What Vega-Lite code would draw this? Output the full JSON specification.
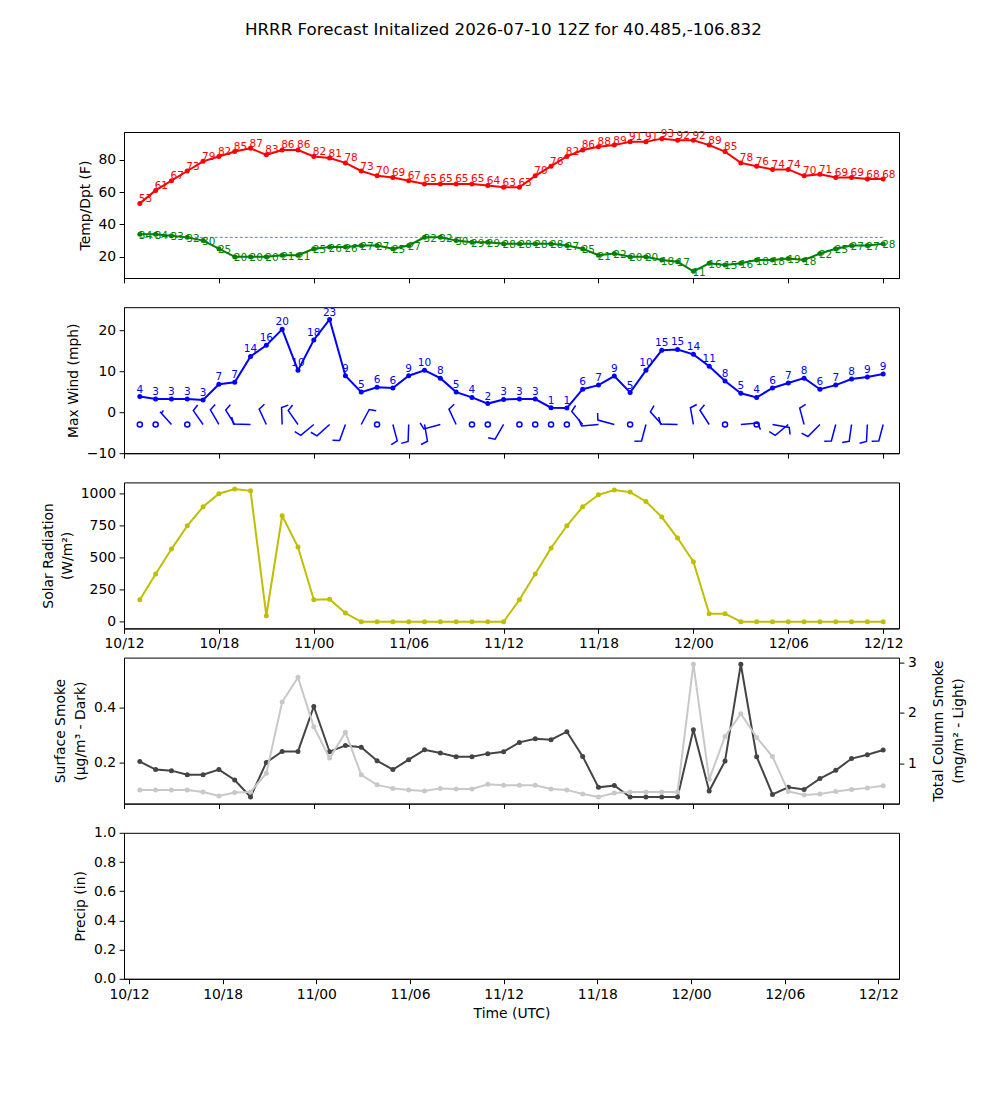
{
"$schema": "https://vega.github.io/schema/vega-lite/v6.json",
"padding": {"left": 41, "top": 21, "right": 15, "bottom": 20},
"bounds": "flush",
"spacing": 29.2,
"title": {"text": "HRRR Forecast Initalized 2026-07-10 12Z for 40.485,-106.832", "fontSize": 16.7, "fontWeight": "normal", "font": "DejaVu Sans", "color": "black", "anchor": "middle", "offset": 90},
"config": {
 "font": "DejaVu Sans",
 "view": {"stroke": "black", "strokeWidth": 1},
 "axis": {"grid": false, "labelFont": "DejaVu Sans", "titleFont": "DejaVu Sans", "labelFontSize": 13.9, "titleFontSize": 13.9, "titleFontWeight": "normal", "labelColor": "black", "titleColor": "black", "tickColor": "black", "domainColor": "black", "tickSize": 4.9, "tickWidth": 1, "domainWidth": 1, "labelPadding": 3.5, "titlePadding": 5.6, "labelFlush": false, "labelOverlap": false}
},
"datasets": {"d": [
{"t":"2026-07-10T13:00:00Z","temp":53,"dpt":34,"wind":3.8,"wlab":4,"solar":172,"sfc":0.204,"col":0.47,"precip":0,"btype":"calm","bdir":0},
{"t":"2026-07-10T14:00:00Z","temp":61,"dpt":34,"wind":3.2,"wlab":3,"solar":373,"sfc":0.175,"col":0.47,"precip":0,"btype":"calm","bdir":0},
{"t":"2026-07-10T15:00:00Z","temp":67,"dpt":33,"wind":3.2,"wlab":3,"solar":568,"sfc":0.171,"col":0.47,"precip":0,"btype":"half","bdir":318},
{"t":"2026-07-10T16:00:00Z","temp":73,"dpt":32,"wind":3.2,"wlab":3,"solar":750,"sfc":0.156,"col":0.47,"precip":0,"btype":"calm","bdir":0},
{"t":"2026-07-10T17:00:00Z","temp":79,"dpt":30,"wind":3.0,"wlab":3,"solar":898,"sfc":0.156,"col":0.43,"precip":0,"btype":"full","bdir":325},
{"t":"2026-07-10T18:00:00Z","temp":82,"dpt":25,"wind":6.8,"wlab":7,"solar":1000,"sfc":0.175,"col":0.35,"precip":0,"btype":"full","bdir":330},
{"t":"2026-07-10T19:00:00Z","temp":85,"dpt":20,"wind":7.3,"wlab":7,"solar":1037,"sfc":0.137,"col":0.42,"precip":0,"btype":"full","bdir":328},
{"t":"2026-07-10T20:00:00Z","temp":87,"dpt":20,"wind":13.6,"wlab":14,"solar":1023,"sfc":0.075,"col":0.43,"precip":0,"btype":"full","bdir":272},
{"t":"2026-07-10T21:00:00Z","temp":83,"dpt":20,"wind":16.3,"wlab":16,"solar":47,"sfc":0.201,"col":0.80,"precip":0,"btype":"full","bdir":335},
{"t":"2026-07-10T22:00:00Z","temp":86,"dpt":21,"wind":20.2,"wlab":20,"solar":828,"sfc":0.241,"col":2.21,"precip":0,"btype":"full","bdir":358},
{"t":"2026-07-10T23:00:00Z","temp":86,"dpt":21,"wind":10.2,"wlab":10,"solar":584,"sfc":0.241,"col":2.70,"precip":0,"btype":"full","bdir":325},
{"t":"2026-07-11T00:00:00Z","temp":82,"dpt":25,"wind":17.6,"wlab":18,"solar":172,"sfc":0.405,"col":1.72,"precip":0,"btype":"full","bdir":230},
{"t":"2026-07-11T01:00:00Z","temp":81,"dpt":26,"wind":22.6,"wlab":23,"solar":175,"sfc":0.240,"col":1.10,"precip":0,"btype":"full","bdir":228},
{"t":"2026-07-11T02:00:00Z","temp":78,"dpt":26,"wind":8.9,"wlab":9,"solar":68,"sfc":0.263,"col":1.61,"precip":0,"btype":"full","bdir":200},
{"t":"2026-07-11T03:00:00Z","temp":73,"dpt":27,"wind":4.9,"wlab":5,"solar":0,"sfc":0.256,"col":0.77,"precip":0,"btype":"full","bdir":28},
{"t":"2026-07-11T04:00:00Z","temp":70,"dpt":27,"wind":6.1,"wlab":6,"solar":0,"sfc":0.207,"col":0.57,"precip":0,"btype":"calm","bdir":0},
{"t":"2026-07-11T05:00:00Z","temp":69,"dpt":25,"wind":5.9,"wlab":6,"solar":0,"sfc":0.175,"col":0.50,"precip":0,"btype":"full","bdir":165},
{"t":"2026-07-11T06:00:00Z","temp":67,"dpt":27,"wind":8.9,"wlab":9,"solar":0,"sfc":0.211,"col":0.47,"precip":0,"btype":"full","bdir":182},
{"t":"2026-07-11T07:00:00Z","temp":65,"dpt":32,"wind":10.2,"wlab":10,"solar":0,"sfc":0.247,"col":0.45,"precip":0,"btype":"full","bdir":170},
{"t":"2026-07-11T08:00:00Z","temp":65,"dpt":32,"wind":8.3,"wlab":8,"solar":0,"sfc":0.235,"col":0.50,"precip":0,"btype":"full","bdir":255},
{"t":"2026-07-11T09:00:00Z","temp":65,"dpt":30,"wind":4.9,"wlab":5,"solar":0,"sfc":0.222,"col":0.49,"precip":0,"btype":"full","bdir":335},
{"t":"2026-07-11T10:00:00Z","temp":65,"dpt":29,"wind":3.6,"wlab":4,"solar":0,"sfc":0.222,"col":0.49,"precip":0,"btype":"calm","bdir":0},
{"t":"2026-07-11T11:00:00Z","temp":64,"dpt":29,"wind":2.1,"wlab":2,"solar":0,"sfc":0.233,"col":0.58,"precip":0,"btype":"calm","bdir":0},
{"t":"2026-07-11T12:00:00Z","temp":63,"dpt":28,"wind":3.1,"wlab":3,"solar":0,"sfc":0.240,"col":0.56,"precip":0,"btype":"full","bdir":210},
{"t":"2026-07-11T13:00:00Z","temp":63,"dpt":28,"wind":3.2,"wlab":3,"solar":172,"sfc":0.274,"col":0.56,"precip":0,"btype":"calm","bdir":0},
{"t":"2026-07-11T14:00:00Z","temp":70,"dpt":28,"wind":3.2,"wlab":3,"solar":373,"sfc":0.287,"col":0.56,"precip":0,"btype":"calm","bdir":0},
{"t":"2026-07-11T15:00:00Z","temp":76,"dpt":28,"wind":1.1,"wlab":1,"solar":576,"sfc":0.284,"col":0.49,"precip":0,"btype":"calm","bdir":0},
{"t":"2026-07-11T16:00:00Z","temp":82,"dpt":27,"wind":1.0,"wlab":1,"solar":750,"sfc":0.313,"col":0.47,"precip":0,"btype":"calm","bdir":0},
{"t":"2026-07-11T17:00:00Z","temp":86,"dpt":25,"wind":5.6,"wlab":6,"solar":898,"sfc":0.223,"col":0.39,"precip":0,"btype":"full","bdir":320},
{"t":"2026-07-11T18:00:00Z","temp":88,"dpt":21,"wind":6.6,"wlab":7,"solar":992,"sfc":0.110,"col":0.33,"precip":0,"btype":"full","bdir":265},
{"t":"2026-07-11T19:00:00Z","temp":89,"dpt":22,"wind":8.8,"wlab":9,"solar":1029,"sfc":0.117,"col":0.41,"precip":0,"btype":"full","bdir":285},
{"t":"2026-07-11T20:00:00Z","temp":91,"dpt":20,"wind":4.8,"wlab":5,"solar":1013,"sfc":0.075,"col":0.43,"precip":0,"btype":"calm","bdir":0},
{"t":"2026-07-11T21:00:00Z","temp":91,"dpt":20,"wind":10.2,"wlab":10,"solar":940,"sfc":0.075,"col":0.43,"precip":0,"btype":"full","bdir":195},
{"t":"2026-07-11T22:00:00Z","temp":93,"dpt":18,"wind":15.1,"wlab":15,"solar":818,"sfc":0.075,"col":0.43,"precip":0,"btype":"full","bdir":318},
{"t":"2026-07-11T23:00:00Z","temp":92,"dpt":17,"wind":15.3,"wlab":15,"solar":654,"sfc":0.075,"col":0.43,"precip":0,"btype":"full","bdir":272},
{"t":"2026-07-12T00:00:00Z","temp":92,"dpt":11,"wind":14.1,"wlab":14,"solar":469,"sfc":0.320,"col":2.96,"precip":0,"btype":"full","bdir":350},
{"t":"2026-07-12T01:00:00Z","temp":89,"dpt":16,"wind":11.2,"wlab":11,"solar":63,"sfc":0.097,"col":0.68,"precip":0,"btype":"full","bdir":327},
{"t":"2026-07-12T02:00:00Z","temp":85,"dpt":15,"wind":7.6,"wlab":8,"solar":63,"sfc":0.206,"col":1.53,"precip":0,"btype":"calm","bdir":0},
{"t":"2026-07-12T03:00:00Z","temp":78,"dpt":16,"wind":4.6,"wlab":5,"solar":0,"sfc":0.559,"col":1.98,"precip":0,"btype":"full","bdir":85},
{"t":"2026-07-12T04:00:00Z","temp":76,"dpt":18,"wind":3.6,"wlab":4,"solar":0,"sfc":0.222,"col":1.51,"precip":0,"btype":"calm","bdir":0},
{"t":"2026-07-12T05:00:00Z","temp":74,"dpt":18,"wind":5.9,"wlab":6,"solar":0,"sfc":0.084,"col":1.13,"precip":0,"btype":"full","bdir":100},
{"t":"2026-07-12T06:00:00Z","temp":74,"dpt":19,"wind":7.1,"wlab":7,"solar":0,"sfc":0.110,"col":0.44,"precip":0,"btype":"full","bdir":230},
{"t":"2026-07-12T07:00:00Z","temp":70,"dpt":18,"wind":8.3,"wlab":8,"solar":0,"sfc":0.102,"col":0.37,"precip":0,"btype":"full","bdir":345},
{"t":"2026-07-12T08:00:00Z","temp":71,"dpt":22,"wind":5.6,"wlab":6,"solar":0,"sfc":0.142,"col":0.39,"precip":0,"btype":"full","bdir":225},
{"t":"2026-07-12T09:00:00Z","temp":69,"dpt":25,"wind":6.6,"wlab":7,"solar":0,"sfc":0.172,"col":0.44,"precip":0,"btype":"full","bdir":195},
{"t":"2026-07-12T10:00:00Z","temp":69,"dpt":27,"wind":8.1,"wlab":8,"solar":0,"sfc":0.215,"col":0.48,"precip":0,"btype":"full","bdir":188},
{"t":"2026-07-12T11:00:00Z","temp":68,"dpt":27,"wind":8.6,"wlab":9,"solar":0,"sfc":0.229,"col":0.51,"precip":0,"btype":"full","bdir":183},
{"t":"2026-07-12T12:00:00Z","temp":68,"dpt":28,"wind":9.3,"wlab":9,"solar":0,"sfc":0.246,"col":0.55,"precip":0,"btype":"full","bdir":195}
]},
"data": {"name": "d"},
"vconcat": [
 {
  "width": 775, "height": 146,
  "encoding": {"x": {"field": "t", "type": "temporal", "title": null, "scale": {"type": "utc", "domain": [{"year": 2026, "month": 7, "date": 10, "hours": 12, "utc": true}, {"year": 2026, "month": 7, "date": 12, "hours": 13, "utc": true}]}, "axis": {"labels": false, "values": [{"year": 2026, "month": 7, "date": 10, "hours": 12, "utc": true}, {"year": 2026, "month": 7, "date": 10, "hours": 18, "utc": true}, {"year": 2026, "month": 7, "date": 11, "hours": 0, "utc": true}, {"year": 2026, "month": 7, "date": 11, "hours": 6, "utc": true}, {"year": 2026, "month": 7, "date": 11, "hours": 12, "utc": true}, {"year": 2026, "month": 7, "date": 11, "hours": 18, "utc": true}, {"year": 2026, "month": 7, "date": 12, "hours": 0, "utc": true}, {"year": 2026, "month": 7, "date": 12, "hours": 6, "utc": true}, {"year": 2026, "month": 7, "date": 12, "hours": 12, "utc": true}]}}},
  "layer": [
   {"mark": {"type": "line", "color": "#3333ff", "strokeWidth": 0.7, "strokeDash": [3, 2]}, "encoding": {"y": {"datum": 32, "type": "quantitative", "title": "Temp/Dpt (F)", "scale": {"domain": [6.9, 97.1], "nice": false, "zero": false}, "axis": {"values": [20, 40, 60, 80]}}}},
   {"mark": {"type": "line", "color": "red", "strokeWidth": 2, "point": {"filled": true, "size": 25, "color": "red", "opacity": 1}}, "encoding": {"y": {"field": "temp", "type": "quantitative", "title": "Temp/Dpt (F)", "scale": {"domain": [6.9, 97.1], "nice": false, "zero": false}, "axis": {"values": [20, 40, 60, 80]}}}},
   {"mark": {"type": "line", "color": "green", "strokeWidth": 2, "point": {"filled": true, "size": 25, "color": "green", "opacity": 1}}, "encoding": {"y": {"field": "dpt", "type": "quantitative", "title": "Temp/Dpt (F)", "scale": {"domain": [6.9, 97.1], "nice": false, "zero": false}, "axis": {"values": [20, 40, 60, 80]}}}},
   {"mark": {"type": "text", "color": "red", "align": "left", "baseline": "alphabetic", "dx": -1, "dy": -1.5, "fontSize": 10.5}, "encoding": {"y": {"field": "temp", "type": "quantitative", "title": "Temp/Dpt (F)", "scale": {"domain": [6.9, 97.1], "nice": false, "zero": false}, "axis": {"values": [20, 40, 60, 80]}}, "text": {"field": "temp", "type": "quantitative"}}},
   {"mark": {"type": "text", "color": "green", "align": "left", "baseline": "alphabetic", "dx": -1, "dy": 4.5, "fontSize": 10.5}, "encoding": {"y": {"field": "dpt", "type": "quantitative", "title": "Temp/Dpt (F)", "scale": {"domain": [6.9, 97.1], "nice": false, "zero": false}, "axis": {"values": [20, 40, 60, 80]}}, "text": {"field": "dpt", "type": "quantitative"}}}
  ]
 },
 {
  "width": 775, "height": 146,
  "encoding": {"x": {"field": "t", "type": "temporal", "title": null, "scale": {"type": "utc", "domain": [{"year": 2026, "month": 7, "date": 10, "hours": 12, "utc": true}, {"year": 2026, "month": 7, "date": 12, "hours": 13, "utc": true}]}, "axis": {"labels": false, "values": [{"year": 2026, "month": 7, "date": 10, "hours": 12, "utc": true}, {"year": 2026, "month": 7, "date": 10, "hours": 18, "utc": true}, {"year": 2026, "month": 7, "date": 11, "hours": 0, "utc": true}, {"year": 2026, "month": 7, "date": 11, "hours": 6, "utc": true}, {"year": 2026, "month": 7, "date": 11, "hours": 12, "utc": true}, {"year": 2026, "month": 7, "date": 11, "hours": 18, "utc": true}, {"year": 2026, "month": 7, "date": 12, "hours": 0, "utc": true}, {"year": 2026, "month": 7, "date": 12, "hours": 6, "utc": true}, {"year": 2026, "month": 7, "date": 12, "hours": 12, "utc": true}]}}},
  "layer": [
   {"mark": {"type": "line", "color": "blue", "strokeWidth": 2, "point": {"filled": true, "size": 25, "color": "blue", "opacity": 1}}, "encoding": {"y": {"field": "wind", "type": "quantitative", "title": "Max Wind (mph)", "scale": {"domain": [-10, 25.6], "nice": false, "zero": false}, "axis": {"values": [-10, 0, 10, 20]}}}},
   {"mark": {"type": "text", "color": "blue", "align": "center", "baseline": "alphabetic", "dy": -4, "fontSize": 10.5}, "encoding": {"y": {"field": "wind", "type": "quantitative", "title": "Max Wind (mph)", "scale": {"domain": [-10, 25.6], "nice": false, "zero": false}, "axis": {"values": [-10, 0, 10, 20]}}, "text": {"field": "wlab", "type": "quantitative"}}},
   {"transform": [{"filter": "datum.btype === 'calm'"}], "mark": {"type": "point", "shape": "circle", "filled": false, "color": "blue", "size": 26, "strokeWidth": 1.5, "opacity": 1}, "encoding": {"y": {"datum": -3, "type": "quantitative", "title": "Max Wind (mph)", "scale": {"domain": [-10, 25.6], "nice": false, "zero": false}, "axis": {"values": [-10, 0, 10, 20]}}}},
   {"transform": [{"filter": "datum.btype !== 'calm'"}], "mark": {"type": "point", "filled": false, "color": "blue", "size": 1156, "strokeWidth": 1.5, "opacity": 1}, "encoding": {"y": {"datum": -3, "type": "quantitative", "title": "Max Wind (mph)", "scale": {"domain": [-10, 25.6], "nice": false, "zero": false}, "axis": {"values": [-10, 0, 10, 20]}}, "shape": {"field": "btype", "type": "nominal", "legend": null, "scale": {"domain": ["half", "full"], "range": ["M0,0L0,-1M0,-0.875L0.2,-0.9375", "M0,0L0,-1L0.4,-1.125"]}}, "angle": {"field": "bdir", "type": "quantitative", "scale": null}}}
  ]
 },
 {
  "width": 775, "height": 146,
  "encoding": {"x": {"field": "t", "type": "temporal", "title": null, "scale": {"type": "utc", "domain": [{"year": 2026, "month": 7, "date": 10, "hours": 12, "utc": true}, {"year": 2026, "month": 7, "date": 12, "hours": 13, "utc": true}]}, "axis": {"labelExpr": "utcFormat(datum.value, '%d/%H')", "values": [{"year": 2026, "month": 7, "date": 10, "hours": 12, "utc": true}, {"year": 2026, "month": 7, "date": 10, "hours": 18, "utc": true}, {"year": 2026, "month": 7, "date": 11, "hours": 0, "utc": true}, {"year": 2026, "month": 7, "date": 11, "hours": 6, "utc": true}, {"year": 2026, "month": 7, "date": 11, "hours": 12, "utc": true}, {"year": 2026, "month": 7, "date": 11, "hours": 18, "utc": true}, {"year": 2026, "month": 7, "date": 12, "hours": 0, "utc": true}, {"year": 2026, "month": 7, "date": 12, "hours": 6, "utc": true}, {"year": 2026, "month": 7, "date": 12, "hours": 12, "utc": true}]}}},
  "layer": [
   {"mark": {"type": "line", "color": "#bfbf00", "strokeWidth": 2, "point": {"filled": true, "size": 25, "color": "#bfbf00", "opacity": 1}}, "encoding": {"y": {"field": "solar", "type": "quantitative", "title": ["Solar Radiation", "(W/m²)"], "scale": {"domain": [-51.85, 1088.85], "nice": false, "zero": false}, "axis": {"values": [0, 250, 500, 750, 1000], "format": "d", "titleLineHeight": 19}}}}
  ]
 },
 {
  "width": 775, "height": 146,
  "encoding": {"x": {"field": "t", "type": "temporal", "title": null, "scale": {"type": "utc", "domain": [{"year": 2026, "month": 7, "date": 10, "hours": 12, "utc": true}, {"year": 2026, "month": 7, "date": 12, "hours": 13, "utc": true}]}, "axis": {"labels": false, "values": [{"year": 2026, "month": 7, "date": 10, "hours": 12, "utc": true}, {"year": 2026, "month": 7, "date": 10, "hours": 18, "utc": true}, {"year": 2026, "month": 7, "date": 11, "hours": 0, "utc": true}, {"year": 2026, "month": 7, "date": 11, "hours": 6, "utc": true}, {"year": 2026, "month": 7, "date": 11, "hours": 12, "utc": true}, {"year": 2026, "month": 7, "date": 11, "hours": 18, "utc": true}, {"year": 2026, "month": 7, "date": 12, "hours": 0, "utc": true}, {"year": 2026, "month": 7, "date": 12, "hours": 6, "utc": true}, {"year": 2026, "month": 7, "date": 12, "hours": 12, "utc": true}]}}},
  "layer": [
   {"mark": {"type": "line", "color": "#444444", "strokeWidth": 2, "point": {"filled": true, "size": 25, "color": "#444444", "opacity": 1}}, "encoding": {"y": {"field": "sfc", "type": "quantitative", "title": ["Surface Smoke", "(μg/m³ - Dark)"], "scale": {"domain": [0.0508, 0.5832], "nice": false, "zero": false}, "axis": {"values": [0.2, 0.4], "format": ".1f", "titleLineHeight": 20}}}},
   {"mark": {"type": "line", "color": "#c8c8c8", "strokeWidth": 2, "point": {"filled": true, "size": 25, "color": "#c8c8c8", "opacity": 1}}, "encoding": {"y": {"field": "col", "type": "quantitative", "title": ["Total Column Smoke", "(mg/m² - Light)"], "scale": {"domain": [0.1985, 3.0915], "nice": false, "zero": false}, "axis": {"orient": "right", "values": [1, 2, 3], "titleAngle": 270, "titleBaseline": "top", "titlePadding": -5, "titleLineHeight": 20}}}}
  ],
  "resolve": {"scale": {"y": "independent"}}
 },
 {
  "width": 775, "height": 146,
  "encoding": {"x": {"field": "t", "type": "temporal", "title": "Time (UTC)", "scale": {"type": "utc", "domain": [{"year": 2026, "month": 7, "date": 10, "hours": 12, "utc": true}, {"year": 2026, "month": 7, "date": 12, "hours": 13, "utc": true}]}, "axis": {"labelExpr": "utcFormat(datum.value, '%d/%H')", "values": [{"year": 2026, "month": 7, "date": 10, "hours": 12, "utc": true}, {"year": 2026, "month": 7, "date": 10, "hours": 18, "utc": true}, {"year": 2026, "month": 7, "date": 11, "hours": 0, "utc": true}, {"year": 2026, "month": 7, "date": 11, "hours": 6, "utc": true}, {"year": 2026, "month": 7, "date": 11, "hours": 12, "utc": true}, {"year": 2026, "month": 7, "date": 11, "hours": 18, "utc": true}, {"year": 2026, "month": 7, "date": 12, "hours": 0, "utc": true}, {"year": 2026, "month": 7, "date": 12, "hours": 6, "utc": true}, {"year": 2026, "month": 7, "date": 12, "hours": 12, "utc": true}]}}},
  "layer": [
   {"mark": {"type": "bar", "color": "#1f77b4", "size": 10}, "encoding": {"y": {"field": "precip", "type": "quantitative", "title": "Precip (in)", "scale": {"domain": [0, 1], "nice": false, "zero": false}, "axis": {"values": [0, 0.2, 0.4, 0.6, 0.8, 1.0], "format": ".1f"}}}}
  ]
 }
]
}
